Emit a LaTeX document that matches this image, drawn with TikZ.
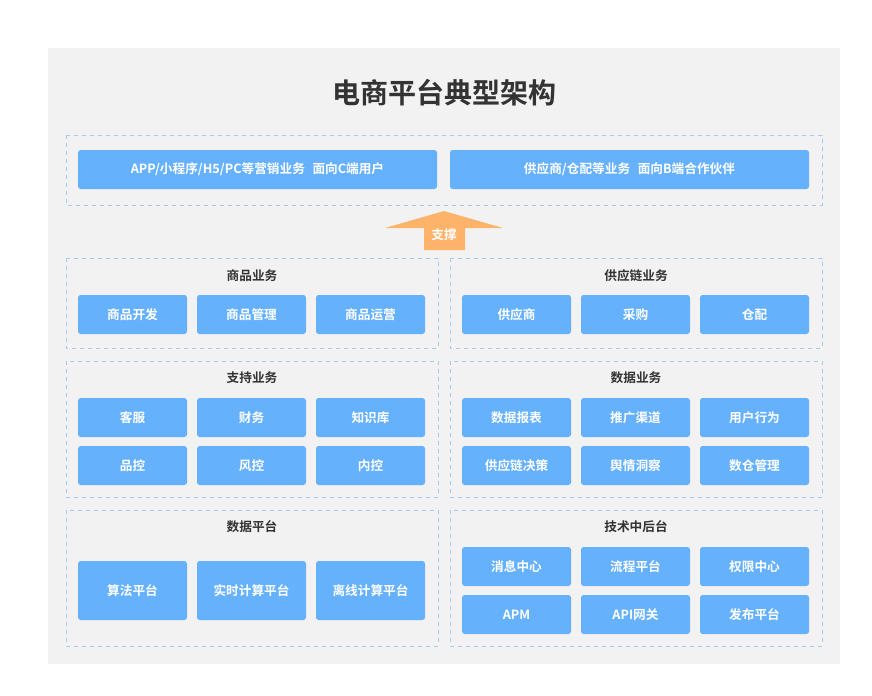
\documentclass[tikz,border=0pt]{standalone}
\usepackage{fontspec}
\setmainfont{Noto Sans CJK SC}
\newfontfamily\cjkb{Noto Sans CJK SC Bold}
\definecolor{btn}{HTML}{66B1FC}
\definecolor{dash}{HTML}{9FCDF7}
\definecolor{bg}{HTML}{F2F2F2}
\definecolor{arr}{HTML}{FDB46A}
\definecolor{ttl}{HTML}{333333}
\begin{document}
\begin{tikzpicture}[x=0.75pt,y=-0.75pt,
  btnbox/.style={fill=btn,rounded corners=2pt,text=white,font=\cjkb\fontsize{9.5}{11}\selectfont},
  grp/.style={draw=dash,dashed,line width=0.6pt},
  grptitle/.style={text=ttl,font=\cjkb\fontsize{9.5}{11}\selectfont}]
\useasboundingbox (0,0) rectangle (872,696);
\fill[white] (0,0) rectangle (872,696);
\fill[bg] (48,48) rectangle (840,664);
\node[text=ttl,font=\cjkb\fontsize{21}{25}\selectfont] (title) at (444,93) {电商平台典型架构};
\newcommand{\btn}[6]{\fill[btn,rounded corners=2pt] (#1,#2) rectangle (#3,#4);
  \node[btnbox,fill=none] (#5) at ({(#1+#3)/2},{(#2+#4)/2}) {#6};}
% top
\draw[grp] (66,135) rectangle (822,205);
\btn{78}{150}{437}{189}{c}{APP/小程序/H5/PC等营销业务\hspace{0.6em}面向C端用户}
\btn{450}{150}{809}{189}{b}{供应商/仓配等业务\hspace{0.6em}面向B端合作伙伴}
% arrow
\fill[arr] (444,211) -- (503,228) -- (465,228) -- (465,250) -- (424,250) -- (424,228) -- (385,228) -- cycle;
\node[text=white,font=\cjkb\fontsize{9.5}{11}\selectfont] (sup) at (444,235) {支撑};
% section 1
\draw[grp] (66,258) rectangle (438,348);
\draw[grp] (450,258) rectangle (822,348);
\node[grptitle] (t1) at (252,276) {商品业务};
\node[grptitle] (t2) at (636,276) {供应链业务};
\btn{78}{295}{187}{334}{a1}{商品开发}
\btn{197}{295}{306}{334}{a2}{商品管理}
\btn{316}{295}{425}{334}{a3}{商品运营}
\btn{462}{295}{571}{334}{a4}{供应商}
\btn{581}{295}{690}{334}{a5}{采购}
\btn{700}{295}{809}{334}{a6}{仓配}
% section 2
\draw[grp] (66,361) rectangle (438,497);
\draw[grp] (450,361) rectangle (822,497);
\node[grptitle] (t3) at (252,378) {支持业务};
\node[grptitle] (t4) at (636,378) {数据业务};
\btn{78}{398}{187}{437}{b1}{客服}
\btn{197}{398}{306}{437}{b2}{财务}
\btn{316}{398}{425}{437}{b3}{知识库}
\btn{462}{398}{571}{437}{b4}{数据报表}
\btn{581}{398}{690}{437}{b5}{推广渠道}
\btn{700}{398}{809}{437}{b6}{用户行为}
\btn{78}{446}{187}{485}{c1}{品控}
\btn{197}{446}{306}{485}{c2}{风控}
\btn{316}{446}{425}{485}{c3}{内控}
\btn{462}{446}{571}{485}{c4}{供应链决策}
\btn{581}{446}{690}{485}{c5}{舆情洞察}
\btn{700}{446}{809}{485}{c6}{数仓管理}
% section 3
\draw[grp] (66,510) rectangle (438,646);
\draw[grp] (450,510) rectangle (822,646);
\node[grptitle] (t5) at (252,527) {数据平台};
\node[grptitle] (t6) at (636,527) {技术中后台};
\btn{78}{561}{187}{620}{d1}{算法平台}
\btn{197}{561}{306}{620}{d2}{实时计算平台}
\btn{316}{561}{425}{620}{d3}{离线计算平台}
\btn{462}{547}{571}{586}{e1}{消息中心}
\btn{581}{547}{690}{586}{e2}{流程平台}
\btn{700}{547}{809}{586}{e3}{权限中心}
\btn{462}{595}{571}{634}{f1}{APM}
\btn{581}{595}{690}{634}{f2}{API网关}
\btn{700}{595}{809}{634}{f3}{发布平台}
\end{tikzpicture}
\end{document}
